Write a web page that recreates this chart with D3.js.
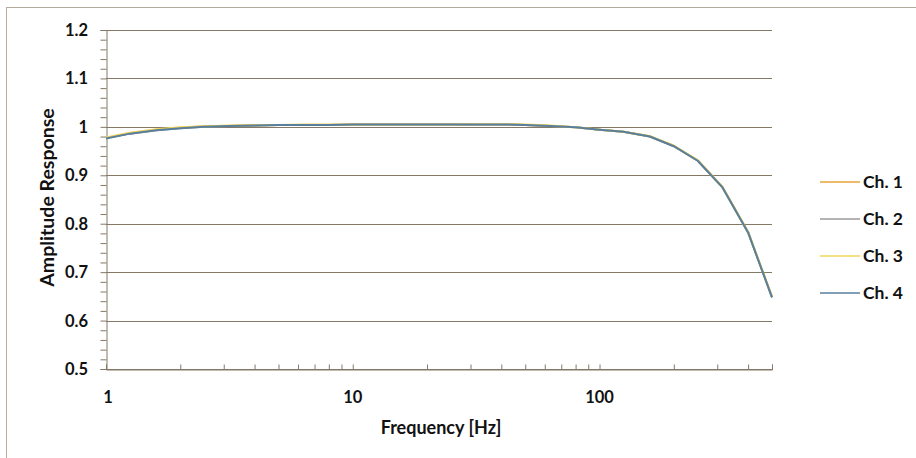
<!DOCTYPE html>
<html>
<head>
<meta charset="utf-8">
<script src="https://cdn.jsdelivr.net/npm/d3@7"></script>
<style>
  body { margin: 0; background: #fff; }
  svg text { font-family: Lato, "Open Sans", sans-serif; font-weight: 700; fill: #111; }
</style>
</head>
<body>
<div id="chart"></div>
<script>
// 1/3-octave frequencies (Hz)
const freqs = [1, 1.25, 1.6, 2, 2.5, 3.15, 4, 5, 6.3, 8, 10, 12.5, 16, 20, 25, 31.5, 40, 50, 63, 80, 100, 125, 160, 200, 250, 315, 400, 500];

// amplitude response per channel
const ch1 = [0.977, 0.987, 0.994, 0.998, 1.001, 1.002, 1.003, 1.004, 1.004, 1.004, 1.005, 1.005, 1.005, 1.005, 1.005, 1.005, 1.005, 1.004, 1.002, 0.999, 0.994, 0.990, 0.980, 0.961, 0.931, 0.876, 0.783, 0.649];
const ch2 = [0.977, 0.986, 0.993, 0.997, 1.000, 1.002, 1.003, 1.004, 1.004, 1.004, 1.005, 1.005, 1.005, 1.005, 1.005, 1.005, 1.005, 1.004, 1.002, 0.999, 0.994, 0.990, 0.980, 0.960, 0.930, 0.875, 0.782, 0.648];
const ch3 = [0.978, 0.988, 0.995, 0.999, 1.001, 1.003, 1.004, 1.004, 1.005, 1.005, 1.005, 1.005, 1.005, 1.005, 1.005, 1.006, 1.006, 1.005, 1.003, 0.999, 0.994, 0.990, 0.981, 0.961, 0.931, 0.876, 0.783, 0.649];
const ch4 = [0.976, 0.986, 0.993, 0.997, 1.000, 1.002, 1.003, 1.004, 1.004, 1.004, 1.005, 1.005, 1.005, 1.005, 1.005, 1.005, 1.005, 1.004, 1.002, 0.999, 0.994, 0.990, 0.980, 0.960, 0.930, 0.875, 0.782, 0.648];

const seriesNames = ["Ch. 1", "Ch. 2", "Ch. 3", "Ch. 4"];
const seriesValues = [ch1, ch2, ch3, ch4];
const seriesColors = ["#e9a53c", "#9a9a9a", "#f2d55a", "#587f9c"];

const yTicks = [0.5, 0.6, 0.7, 0.8, 0.9, 1, 1.1, 1.2];
const xTicks = [1, 10, 100];

const width = 916, height = 458;
const margin = { left: 106, top: 30, right: 144, bottom: 89 };

const svg = d3.select("#chart").append("svg")
    .attr("width", width)
    .attr("height", height);

// outer chart frame
svg.append("rect")
    .attr("x", 6.5).attr("y", 7.5)
    .attr("width", width).attr("height", height)
    .attr("fill", "#fff")
    .attr("stroke", "#b4ab9c")
    .attr("stroke-width", 1);

const x = d3.scaleLog()
    .domain([1, 500])
    .range([margin.left, width - margin.right]);

const y = d3.scaleLinear()
    .domain([0.5, 1.2])
    .range([height - margin.bottom, margin.top]);

const gridColor = "#857867";

// horizontal gridlines
svg.append("g")
    .selectAll("line")
    .data(yTicks)
    .join("line")
    .attr("x1", x.range()[0]).attr("x2", x.range()[1])
    .attr("y1", d => Math.round(y(d)) + 0.5)
    .attr("y2", d => Math.round(y(d)) + 0.5)
    .attr("stroke", gridColor)
    .attr("stroke-width", 1);

// y axis
const yAxis = svg.append("g")
    .attr("transform", `translate(${margin.left + 0.5},0)`)
    .call(d3.axisLeft(y)
        .tickValues(d3.range(0.5, 1.2001, 0.02))
        .tickSize(6)
        .tickFormat(""));
yAxis.select(".domain").attr("stroke", gridColor);
yAxis.selectAll(".tick line").attr("stroke", gridColor);

svg.append("g")
    .selectAll("text")
    .data(yTicks)
    .join("text")
    .attr("x", 88)
    .attr("y", d => y(d))
    .attr("dy", "0.36em")
    .attr("text-anchor", "end")
    .style("font-size", "16.5px")
    .text(d => d3.format("")(d));

// x axis (log, minor ticks upward)
const xMinor = [];
for (let dec = 1; dec <= 100; dec *= 10) {
    for (let k = 1; k < 10; k++) {
        if (dec * k <= 500) xMinor.push(dec * k);
    }
}
const xAxis = svg.append("g")
    .attr("transform", `translate(0,${Math.round(y(0.5)) + 0.5})`)
    .call(d3.axisTop(x)
        .tickValues(xMinor)
        .tickSize(5)
        .tickFormat(""));
xAxis.select(".domain").attr("stroke", gridColor);
xAxis.selectAll(".tick line").attr("stroke", gridColor);

svg.append("g")
    .selectAll("text")
    .data(xTicks)
    .join("text")
    .attr("x", d => x(d) + (d === 1 ? 2 : 0))
    .attr("y", 397)
    .attr("dy", "0.36em")
    .attr("text-anchor", "middle")
    .style("font-size", "16.5px")
    .text(d => d);

// axis titles
svg.append("text")
    .attr("x", 441).attr("y", 428)
    .attr("dy", "0.36em")
    .attr("text-anchor", "middle")
    .style("font-size", "18px")
    .text("Frequency [Hz]");

svg.append("text")
    .attr("transform", `translate(47,${(y(0.5) + y(1.2)) / 2 - 2}) rotate(-90)`)
    .attr("dy", "0.36em")
    .attr("text-anchor", "middle")
    .style("font-size", "19.5px")
    .text("Amplitude Response");

// series lines
const line = d3.line()
    .x((d, i) => x(freqs[i]))
    .y(d => y(d));

svg.append("g")
    .selectAll("path")
    .data(seriesValues)
    .join("path")
    .attr("d", line)
    .attr("fill", "none")
    .attr("stroke", (d, i) => seriesColors[i])
    .attr("stroke-width", 2)
    .attr("stroke-linejoin", "round");

// legend
const legend = svg.append("g")
    .selectAll("g")
    .data(seriesNames)
    .join("g")
    .attr("transform", (d, i) => `translate(820,${182 + i * 37})`);

legend.append("line")
    .attr("x1", 0).attr("x2", 40)
    .attr("stroke", (d, i) => seriesColors[i])
    .attr("stroke-width", 1.5);

legend.append("text")
    .attr("x", 43)
    .attr("dy", "0.36em")
    .style("font-size", "17.5px")
    .text(d => d);
</script>
</body>
</html>
